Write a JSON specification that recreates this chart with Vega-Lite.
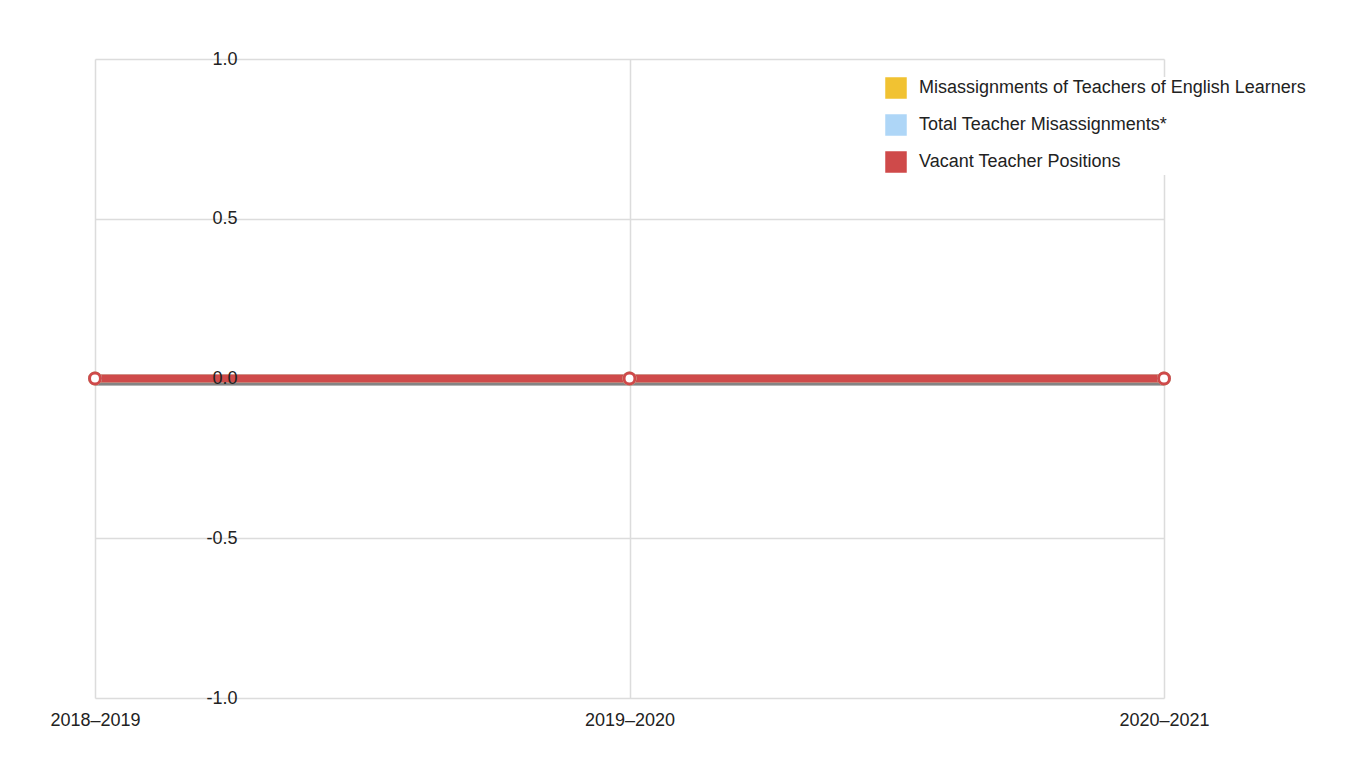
{
  "$schema": "https://vega.github.io/schema/vega-lite/v6.json",
  "width": 1069,
  "height": 639,
  "autosize": "none",
  "padding": {"left": 95, "top": 59, "right": 205, "bottom": 84},
  "background": "white",
  "config": {
    "font": "Liberation Sans",
    "view": {"stroke": null},
    "axis": {"labelFont": "Liberation Sans", "labelFontSize": 18, "labelColor": "#222", "gridColor": "#dcdcdc", "gridWidth": 1.5, "domain": false, "ticks": false, "title": null}
  },
  "data": {
    "values": [
      {"year": "2018–2019", "series": "Misassignments of Teachers of English Learners", "value": 0},
      {"year": "2019–2020", "series": "Misassignments of Teachers of English Learners", "value": 0},
      {"year": "2020–2021", "series": "Misassignments of Teachers of English Learners", "value": 0},
      {"year": "2018–2019", "series": "Total Teacher Misassignments*", "value": 0},
      {"year": "2019–2020", "series": "Total Teacher Misassignments*", "value": 0},
      {"year": "2020–2021", "series": "Total Teacher Misassignments*", "value": 0},
      {"year": "2018–2019", "series": "Vacant Teacher Positions", "value": 0},
      {"year": "2019–2020", "series": "Vacant Teacher Positions", "value": 0},
      {"year": "2020–2021", "series": "Vacant Teacher Positions", "value": 0}
    ]
  },
  "encoding": {
    "x": {"field": "year", "type": "ordinal", "scale": {"type": "point", "padding": 0},
      "axis": {"labelAngle": 0, "labelPadding": 13, "grid": true}},
    "y": {"field": "value", "type": "quantitative", "scale": {"domain": [-1, 1], "nice": false},
      "axis": {"values": [-1, -0.5, 0, 0.5, 1], "format": ".1f", "labelExpr": "replace(datum.label, '−', '-')", "labelPadding": -142, "grid": true, "zindex": 1,
        "gridOpacity": {"condition": {"test": "datum.value === 0", "value": 0}, "value": 1}}}
  },
  "layer": [
    {
      "mark": {"type": "line", "strokeWidth": 8, "color": "#555", "opacity": 0.35, "yOffset": 3},
      "encoding": {"detail": {"field": "series"}}
    },
    {
      "mark": {"type": "line", "strokeWidth": 8},
      "encoding": {
        "color": {"field": "series", "type": "nominal",
          "scale": {"domain": ["Misassignments of Teachers of English Learners", "Total Teacher Misassignments*", "Vacant Teacher Positions"],
                    "range": ["#f1c232", "#aed6f7", "#cf4a4a"]},
          "legend": {
            "title": null, "orient": "none", "legendX": 790, "legendY": 18,
            "symbolType": "square", "symbolSize": 400, "labelFontSize": 18, "labelColor": "#222",
            "labelFont": "Liberation Sans", "labelOffset": 12, "rowPadding": 11, "padding": 0, "labelLimit": 0,
            "fillColor": "white", "symbolStrokeWidth": 1.5, "symbolStrokeColor": "#d0d0d0",
            "encode": {"symbols": {"update": {"fill": {"scale": "color", "field": "value"}, "stroke": {"value": "#d0d0d0"}, "strokeWidth": {"value": 1.5}, "fillOpacity": {"value": 1}}}}
          }
        },
        "order": {"field": "series"}
      }
    },
    {
      "mark": {"type": "point", "filled": true, "fill": "white", "size": 120, "strokeWidth": 3, "opacity": 1},
      "encoding": {"stroke": {"field": "series", "type": "nominal", "legend": null,
        "scale": {"domain": ["Misassignments of Teachers of English Learners", "Total Teacher Misassignments*", "Vacant Teacher Positions"],
                  "range": ["#f1c232", "#aed6f7", "#cf4a4a"]}}}
    }
  ]
}
